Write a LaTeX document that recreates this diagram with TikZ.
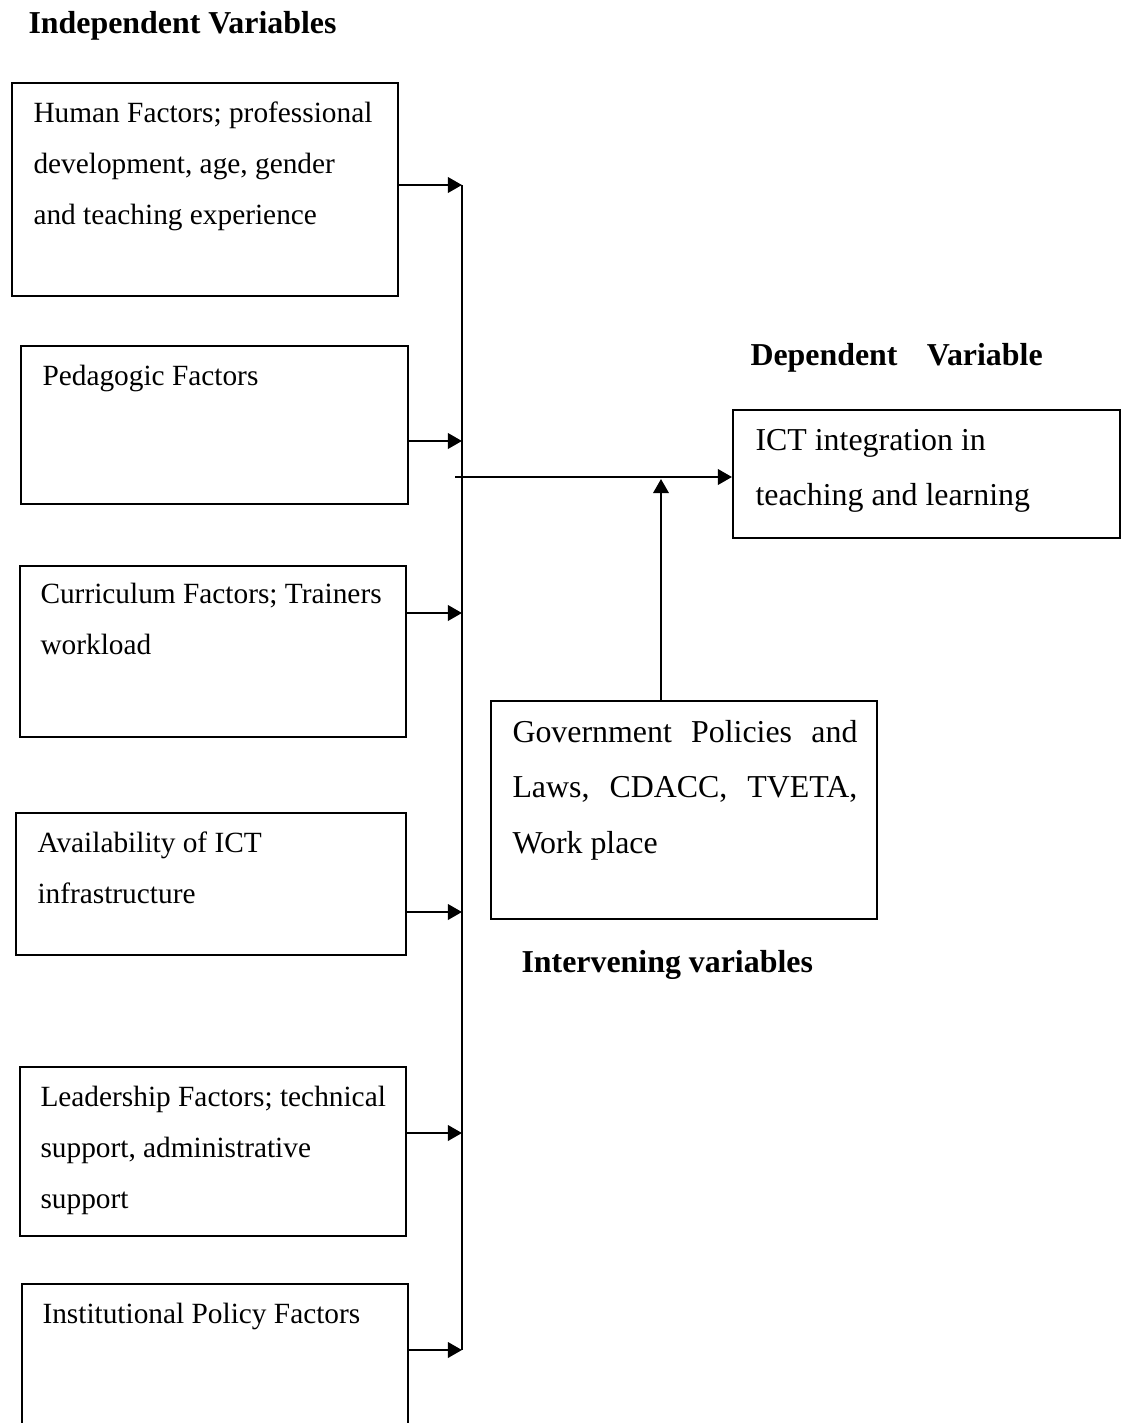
\documentclass[tikz,border=0pt]{standalone}
\usepackage{fontspec}
\setmainfont{Liberation Serif}
\usetikzlibrary{arrows.meta,fit}

\begin{document}
\begin{tikzpicture}[x=0.392pt,y=-0.392pt,
	box/.style={draw, line width=0.8pt, inner sep=0pt},
	txt/.style={anchor=north west, inner sep=0pt, align=flush left, text width=155pt,
		font=\fontsize{11.5}{20}\selectfont, execute at begin node=\rule{0pt}{9pt}},
	txtr/.style={txt, font=\fontsize{12.5}{21.75}\selectfont},
	head/.style={anchor=base west, inner sep=0pt, font=\fontsize{12.5}{14}\selectfont\bfseries},
	arr/.style={line width=1pt, -{Triangle[length=5.5pt,width=6pt]}}]
			%%%%% START %%%%%
			\useasboundingbox (0,0) rectangle (1122,1423);
			\clip (0,0) rectangle (1122,1423);
			
			\node[head] (indep) at (28,33) {Independent Variables};
			
			\node[box, fit={(12,83) (398,296)}] (human) {};
			\node[txt] (humant) at (33,99) {Human Factors; professional\\development, age, gender\\and teaching experience};
			
			\node[box, fit={(21,346) (408,504)}] (peda) {};
			\node[txt] (pedat) at (42,362) {Pedagogic Factors};
			
			\node[box, fit={(20,566) (406,737)}] (curr) {};
			\node[txt] (currt) at (40,580) {Curriculum Factors; Trainers\\workload};
			
			\node[box, fit={(16,813) (406,955)}] (infra) {};
			\node[txt] (infrat) at (37,829) {Availability of ICT\\infrastructure};
			
			\node[box, fit={(20,1067) (406,1236)}] (lead) {};
			\node[txt] (leadt) at (40,1083) {Leadership Factors; technical\\support, administrative\\support};
			
			\node[box, fit={(22,1284) (408,1440)}] (inst) {};
			\node[txt] (instt) at (42,1300) {Institutional Policy Factors};
			
			\node[head] (dep) at (750,365) {Dependent\hspace{11.5pt}Variable};
			\node[box, fit={(733,410) (1120,538)}] (ict) {};
			\node[txtr] (ictt) at (755,427) {ICT integration in\\teaching and learning};
			
			\node[box, fit={(491,701) (877,919)}] (gov) {};
			\node[txtr, text width=135.2pt] (govt) at (512,719) {Government\hfill Policies\hfill and\\Laws,\hfill CDACC,\hfill TVETA,\\Work place};
			\node[head] (interv) at (521,972) {Intervening variables};
			
			% bus line and arrows
			\coordinate (b1) at (462,185);
			\coordinate (b2) at (462,441);
			\coordinate (b3) at (462,613);
			\coordinate (b4) at (462,912);
			\coordinate (b5) at (462,1133);
			\coordinate (b6) at (462,1350);
			\draw[line width=1pt] (b1) -- (b6);
			
			\draw[arr] (human.east |- b1) -- (b1);
			\draw[arr] (peda.east |- b2) -- (b2);
			\draw[arr] (curr.east |- b3) -- (b3);
			\draw[arr] (infra.east |- b4) -- (b4);
			\draw[arr] (lead.east |- b5) -- (b5);
			\draw[arr] (inst.east |- b6) -- (b6);
			
			\coordinate (jn) at (455,477);
			\draw[arr] (jn) -- (jn -| ict.west);
			
			\coordinate (gv) at (661,479);
			\draw[arr] (gov.north -| gv) -- (gv);
			%%%%% END %%%%%
\end{tikzpicture}
\end{document}
